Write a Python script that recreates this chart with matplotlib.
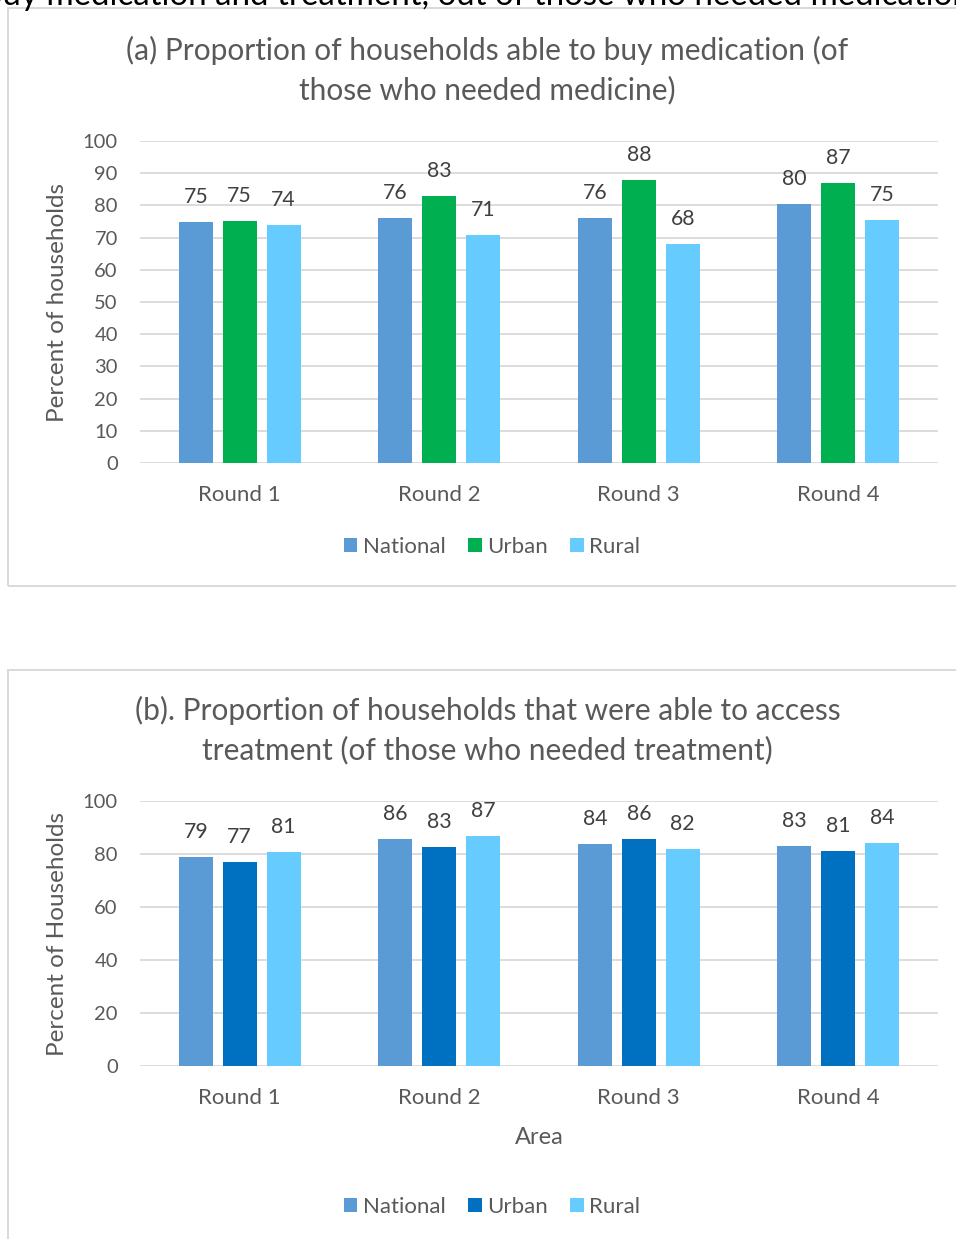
import matplotlib
matplotlib.use("Agg")
import matplotlib.pyplot as plt
from matplotlib.patches import Rectangle, Patch
import numpy as np

rounds = ["Round 1", "Round 2", "Round 3", "Round 4"]
series = ["National", "Urban", "Rural"]

med_national = [74.8, 76.0, 76.0, 80.3]
med_urban = [75.0, 82.9, 88.0, 87.0]
med_rural = [73.9, 70.8, 68.0, 75.4]

treat_national = [79.0, 85.8, 83.8, 82.9]
treat_urban = [76.8, 82.7, 85.8, 81.3]
treat_rural = [80.7, 86.8, 81.8, 84.2]

yticks_a = list(range(0, 101, 10))
yticks_b = list(range(0, 101, 20))

title_a = "(a) Proportion of households able to buy medication (of\nthose who needed medicine)"
title_b = "(b). Proportion of households that were able to access\ntreatment (of those who needed treatment)"
ylabel_a = "Percent of households"
ylabel_b = "Percent of Households"
xlabel_b = "Area"
header_text = "buy medication and treatment, out of those who needed medication"

c_nat = "#5B9BD5"
c_urb_a = "#00B050"
c_urb_b = "#0070C0"
c_rur = "#66CCFF"
grid_c = "#D9D9D9"
txt_c = "#595959"
lbl_c = "#404040"

W, H = 956, 1239
plt.rcParams['font.family'] = ['Lato', 'DejaVu Sans']
fig = plt.figure(figsize=(W / 100, H / 100), dpi=100)
fig.patch.set_facecolor("white")

def fx(px):
    return px / W

def fy(py):
    return 1 - py / H

# panel borders
fig.add_artist(Rectangle((fx(8), fy(586)), fx(1000) - fx(8), fy(8) - fy(586),
                         transform=fig.transFigure, fill=False, edgecolor=grid_c, lw=1.4))
fig.add_artist(Rectangle((fx(8), fy(1300)), fx(1000) - fx(8), fy(670) - fy(1300),
                         transform=fig.transFigure, fill=False, edgecolor=grid_c, lw=1.4))

# header cut-off text
fig.text(fx(-16), fy(-4), header_text, ha="left", va="center", fontsize=23.8, color="black")

ytick_fs = 14.5
xtick_fs = 16
lab_fs = 15.3
width = 0.17
offs = [-0.22, 0.0, 0.22]


def draw_panel(top, bottom, vals, colors, yticks, ylabel, title, title_y, legend_y, xlabel=None):
    ax = fig.add_axes([fx(140), fy(bottom), fx(938) - fx(140), fy(top) - fy(bottom)])
    x = np.arange(len(rounds))
    for i, (v, c) in enumerate(zip(vals, colors)):
        ax.bar(x + offs[i], v, width=width, color=c, zorder=3, label=series[i])
        for xi, vi in zip(x + offs[i], v):
            ax.annotate(f"{vi:.0f}", (xi, vi), xytext=(0, 18), textcoords="offset points",
                        ha="center", va="center", fontsize=lab_fs, color=lbl_c)
    ax.set_xlim(-0.5, 3.5)
    ax.set_ylim(0, 100)
    ax.set_yticks(yticks)
    ax.set_xticks(x)
    ax.set_xticklabels(rounds)
    ax.tick_params(axis="both", length=0, labelcolor=txt_c)
    ax.tick_params(axis="y", pad=16, labelsize=ytick_fs)
    ax.tick_params(axis="x", pad=15.5, labelsize=xtick_fs)
    for s in ax.spines.values():
        s.set_visible(False)
    ax.grid(axis="y", color=grid_c, lw=1.3, zorder=0)
    ax.set_axisbelow(True)
    ax.set_ylabel(ylabel, fontsize=17.5, color=txt_c, va="center")
    ax.yaxis.set_label_coords((58 - 140) / 798, 0.5)
    if xlabel:
        ax.set_xlabel(xlabel, fontsize=17, color=txt_c, va="center")
        ax.xaxis.set_label_coords(0.5, -(1137 - bottom) / (bottom - top))
    fig.text(fx(487.5), fy(title_y), title, ha="center", va="center", fontsize=21.5,
             color=txt_c, linespacing=1.43)
    handles = [Patch(facecolor=c, edgecolor="none") for c in colors]
    fig.legend(handles, series, loc="center", bbox_to_anchor=(fx(492), fy(legend_y)),
               ncol=3, frameon=False, fontsize=xtick_fs, handlelength=0.62, handleheight=0.62,
               handletextpad=0.25, columnspacing=1.0, labelcolor=txt_c)
    return ax


draw_panel(141, 463, [med_national, med_urban, med_rural], [c_nat, c_urb_a, c_rur],
           yticks_a, ylabel_a, title_a, 70, 547)
draw_panel(801, 1066, [treat_national, treat_urban, treat_rural], [c_nat, c_urb_b, c_rur],
           yticks_b, ylabel_b, title_b, 730, 1207, xlabel=xlabel_b)

fig.savefig("out.png", dpi=100, facecolor="white")
